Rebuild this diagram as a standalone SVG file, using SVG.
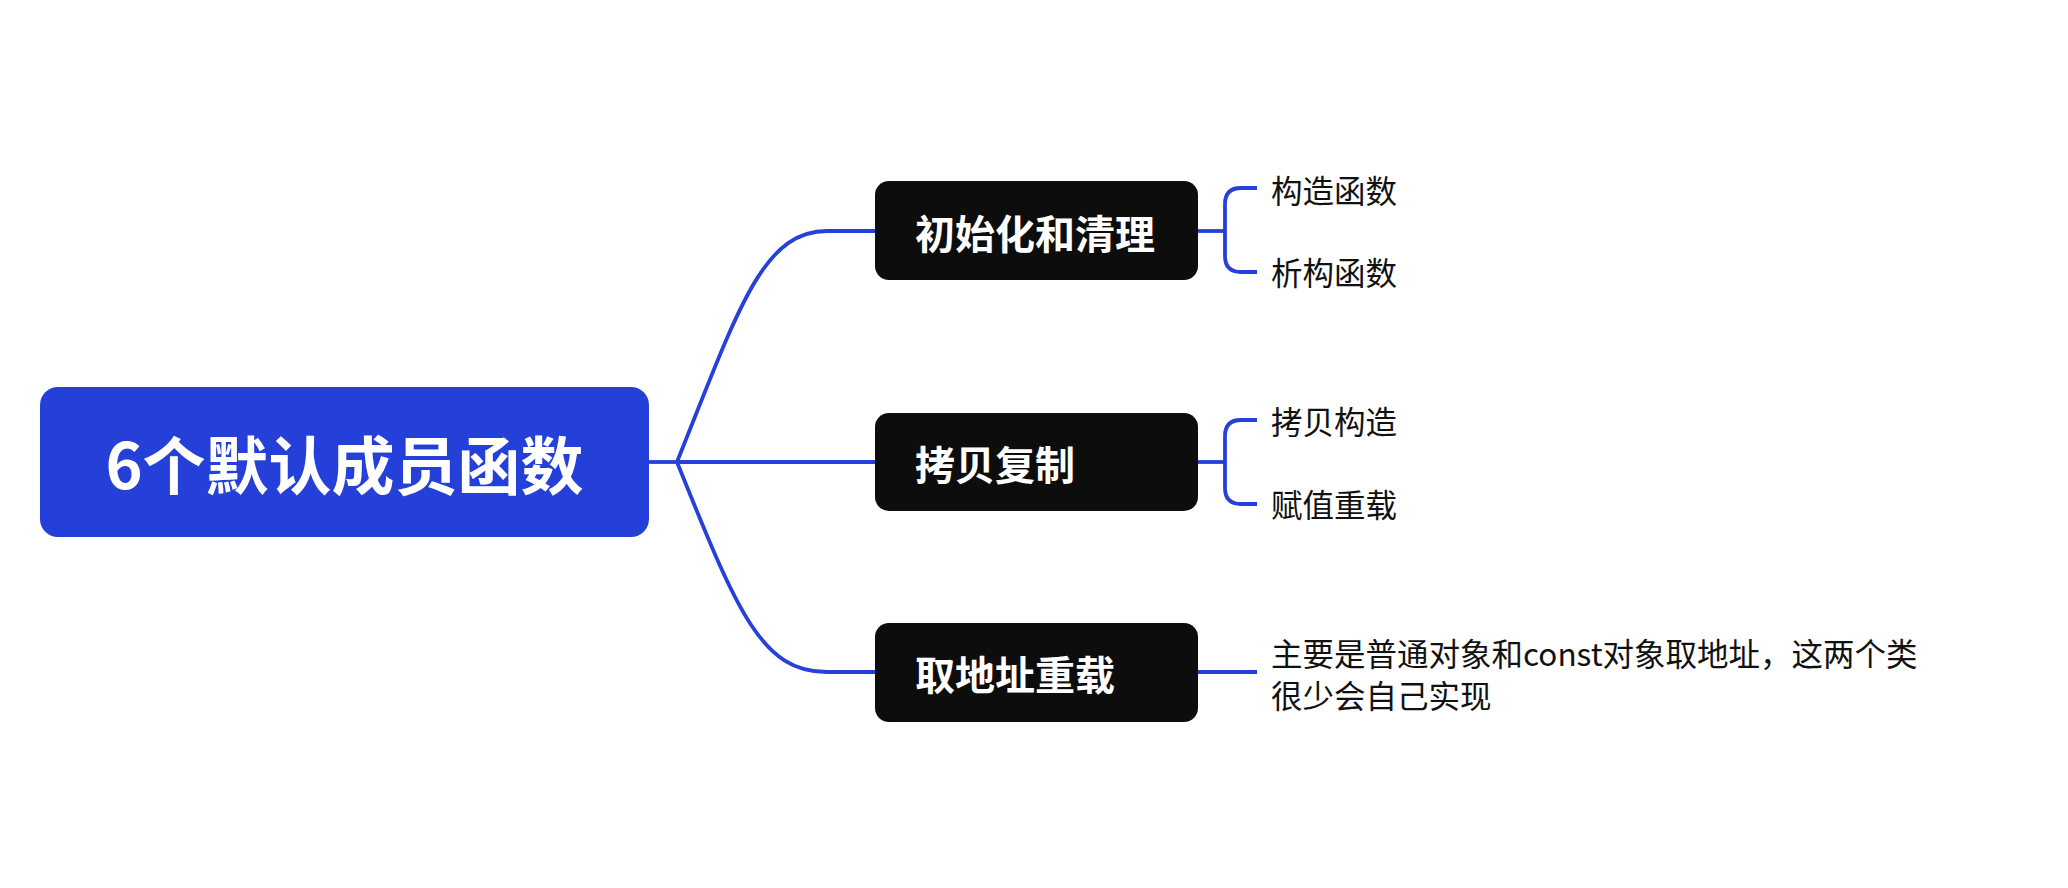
<svg xmlns="http://www.w3.org/2000/svg" width="2068" height="888" viewBox="0 0 2068 888">
<style>
.bg{fill:#ffffff}
.root{fill:#2440D9}
.node{fill:#0D0D0D}
.conn{fill:none;stroke:#2541DA;stroke-width:3.8;stroke-linecap:butt;stroke-linejoin:round}
.rt{font-family:"Noto Sans CJK SC","Noto Sans",sans-serif;font-weight:700;font-size:63px;fill:#ffffff}
.nt{font-family:"Noto Sans CJK SC","Noto Sans",sans-serif;font-weight:700;font-size:40px;fill:#ffffff}
.lt{font-family:"Noto Sans CJK SC","Noto Sans",sans-serif;font-weight:400;font-size:31.5px;fill:#111111}
</style>
<rect class="bg" x="0" y="0" width="2068" height="888"/>
<g id="connectors">
<path class="conn" d="M649,462 H677"/>
<path class="conn" d="M677,462 C738,310 762,231 827,231 H875"/>
<path class="conn" d="M677,462 H875"/>
<path class="conn" d="M677,462 C738,614 762,672 827,672 H875"/>
<path class="conn" d="M1198,231 H1225"/>
<path class="conn" d="M1257,188 H1241 Q1225,188 1225,204 V256 Q1225,272 1241,272 H1257"/>
<path class="conn" d="M1198,462 H1225"/>
<path class="conn" d="M1257,420 H1241 Q1225,420 1225,436 V488 Q1225,504 1241,504 H1257"/>
<path class="conn" d="M1198,672 H1257"/>
</g>
<g id="root">
<rect class="root" x="40" y="387" width="609" height="150" rx="18"/>
<text class="rt" x="344.5" y="488.5" text-anchor="middle">6个默认成员函数</text>
</g>
<g id="node-init">
<rect class="node" x="875" y="181" width="323" height="99" rx="14"/>
<text class="nt" x="915" y="248.5">初始化和清理</text>
</g>
<g id="node-copy">
<rect class="node" x="875" y="413" width="323" height="98" rx="14"/>
<text class="nt" x="915" y="480">拷贝复制</text>
</g>
<g id="node-addr">
<rect class="node" x="875" y="623" width="323" height="99" rx="14"/>
<text class="nt" x="915" y="690">取地址重载</text>
</g>
<g id="leaf-ctor">
<text class="lt" x="1271" y="203">构造函数</text>
</g>
<g id="leaf-dtor">
<text class="lt" x="1271" y="285">析构函数</text>
</g>
<g id="leaf-copyctor">
<text class="lt" x="1271" y="434">拷贝构造</text>
</g>
<g id="leaf-assign">
<text class="lt" x="1271" y="517">赋值重载</text>
</g>
<g id="leaf-addr">
<text class="lt" x="1271" y="666">主要是普通对象和const对象取地址，这两个类</text>
<text class="lt" x="1271" y="708">很少会自己实现</text>
</g>
</svg>
